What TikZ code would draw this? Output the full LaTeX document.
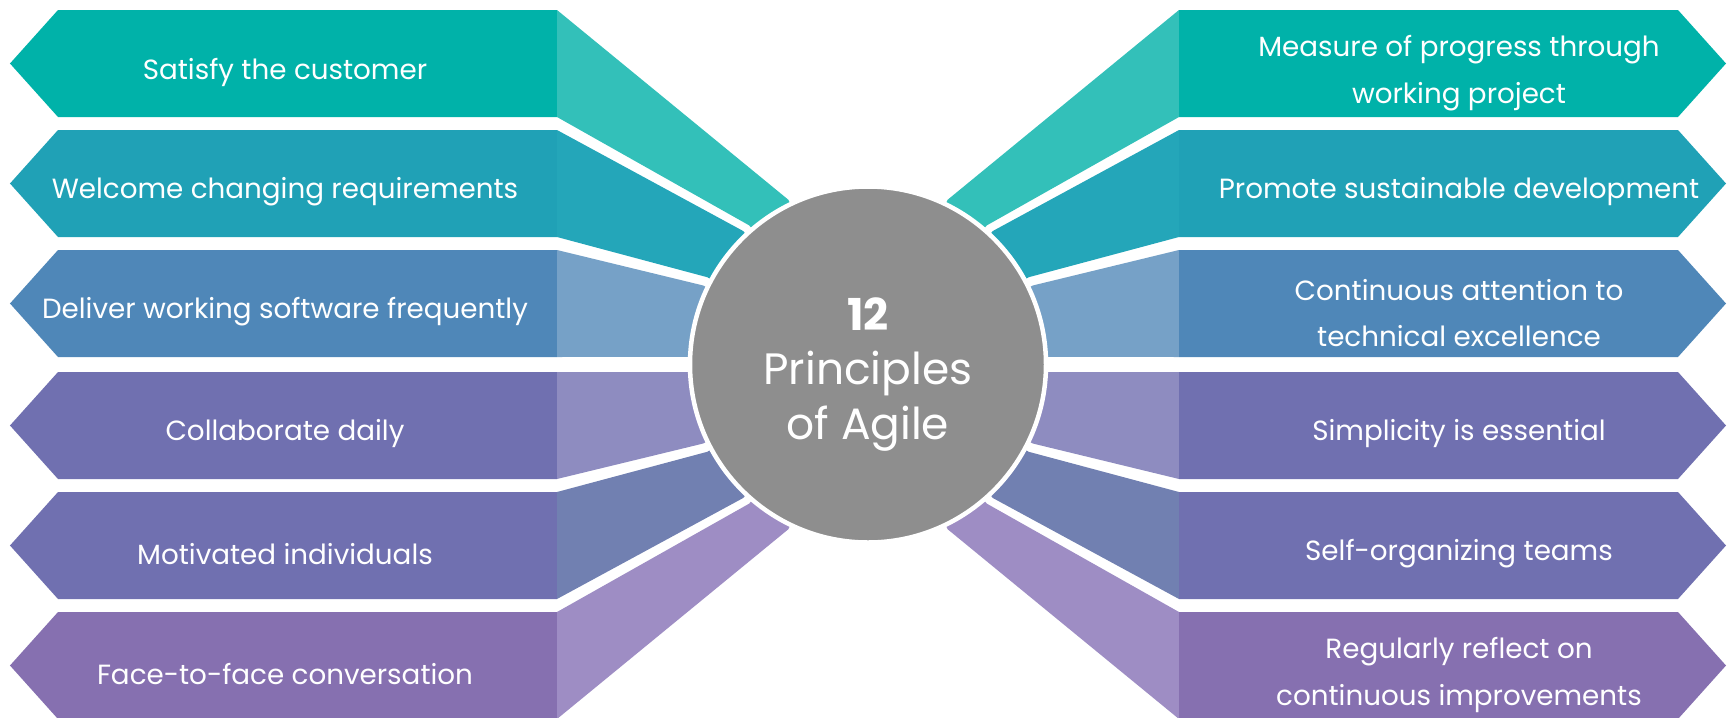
\documentclass[tikz,border=0pt]{standalone}
\usepackage{fontspec}
\setmainfont{Poppins}
\definecolor{rowA}{HTML}{00B2A9}
\definecolor{rowAface}{HTML}{33C0B9}
\definecolor{rowB}{HTML}{20A1B6}
\definecolor{rowBface}{HTML}{24A6B9}
\definecolor{rowC}{HTML}{4F87B8}
\definecolor{rowCface}{HTML}{76A1C7}
\definecolor{rowD}{HTML}{7070B0}
\definecolor{rowDface}{HTML}{8E8CC0}
\definecolor{rowE}{HTML}{7070B0}
\definecolor{rowEface}{HTML}{7180B1}
\definecolor{rowF}{HTML}{8670B0}
\definecolor{rowFface}{HTML}{9E8DC4}
\definecolor{hubgray}{HTML}{8E8E8E}
% arm pointing west: body colour, face colour, centre y, top angle, bottom angle
\newcommand{\armwest}[5]{%
  \fill[#2] (-31.1,#3+5.35) -- (#4:18.3) -- (0,0) -- (#5:18.3) -- (-31.1,#3-5.35) -- cycle;
  \fill[#1] (-31.1,#3+5.35) -- (-81,#3+5.35) -- (-85.8,#3) -- (-81,#3-5.35) -- (-31.1,#3-5.35) -- cycle;}
% arm pointing east
\newcommand{\armeast}[5]{%
  \fill[#2] (31.1,#3+5.35) -- (#4:18.3) -- (0,0) -- (#5:18.3) -- (31.1,#3-5.35) -- cycle;
  \fill[#1] (31.1,#3+5.35) -- (81,#3+5.35) -- (85.8,#3) -- (81,#3-5.35) -- (31.1,#3-5.35) -- cycle;}
\begin{document}
\begin{tikzpicture}[
 x=2mm, y=2mm,
 align=center,
 principle/.style={text=white,font=\fontsize{15.8}{26.5}\selectfont},
 hub/.style={circle,fill=hubgray,draw=white,line width=0.9mm,minimum size=71.2mm,inner sep=0pt},
 hubtext/.style={text=white,font=\fontsize{25}{31}\selectfont}
]
\useasboundingbox (-86.8,-35.25) rectangle (86.2,36.45);
% left arms
\armwest{rowA}{rowAface}{30.1}{115.8}{130.5}
\armwest{rowB}{rowBface}{18.1}{133.1}{151.5}
\armwest{rowC}{rowCface}{6.1}{154.4}{177.6}
\armwest{rowD}{rowDface}{-6.1}{182.4}{205.6}
\armwest{rowE}{rowEface}{-18.1}{208.5}{226.9}
\armwest{rowF}{rowFface}{-30.1}{229.5}{244.2}
% right arms
\armeast{rowA}{rowAface}{30.1}{64.2}{49.5}
\armeast{rowB}{rowBface}{18.1}{46.9}{28.5}
\armeast{rowC}{rowCface}{6.1}{25.6}{2.4}
\armeast{rowD}{rowDface}{-6.1}{-2.4}{-25.6}
\armeast{rowE}{rowEface}{-18.1}{-28.5}{-46.9}
\armeast{rowF}{rowFface}{-30.1}{-49.5}{-64.2}
% labels
\node (satisfy) [principle] at (-58.3,29.25) {Satisfy the customer};
\node (welcome) [principle] at (-58.3,17.25) {Welcome changing requirements};
\node (deliver) [principle] at (-58.3,5.25) {Deliver working software frequently};
\node (collaborate) [principle] at (-58.3,-6.95) {Collaborate daily};
\node (motivated) [principle] at (-58.3,-18.95) {Motivated individuals};
\node (facetoface) [principle] at (-58.3,-30.95) {Face-to-face conversation};
\node (measure) [principle] at (59.1,29.15) {Measure of progress through\\working project};
\node (sustainable) [principle] at (59.1,17.25) {Promote sustainable development};
\node (attention) [principle] at (59.1,5.15) {Continuous attention to\\technical excellence};
\node (simplicity) [principle] at (59.1,-6.95) {Simplicity is essential};
\node (selforg) [principle] at (59.1,-18.95) {Self-organizing teams};
\node (reflect) [principle] at (59.1,-31.05) {Regularly reflect on\\continuous improvements};
% centre
\node (hub) [hub] at (0,0) {};
\node (hub-text) [hubtext] at (0,-1) {\textbf{12}\\Principles\\of Agile};
\end{tikzpicture}
\end{document}
